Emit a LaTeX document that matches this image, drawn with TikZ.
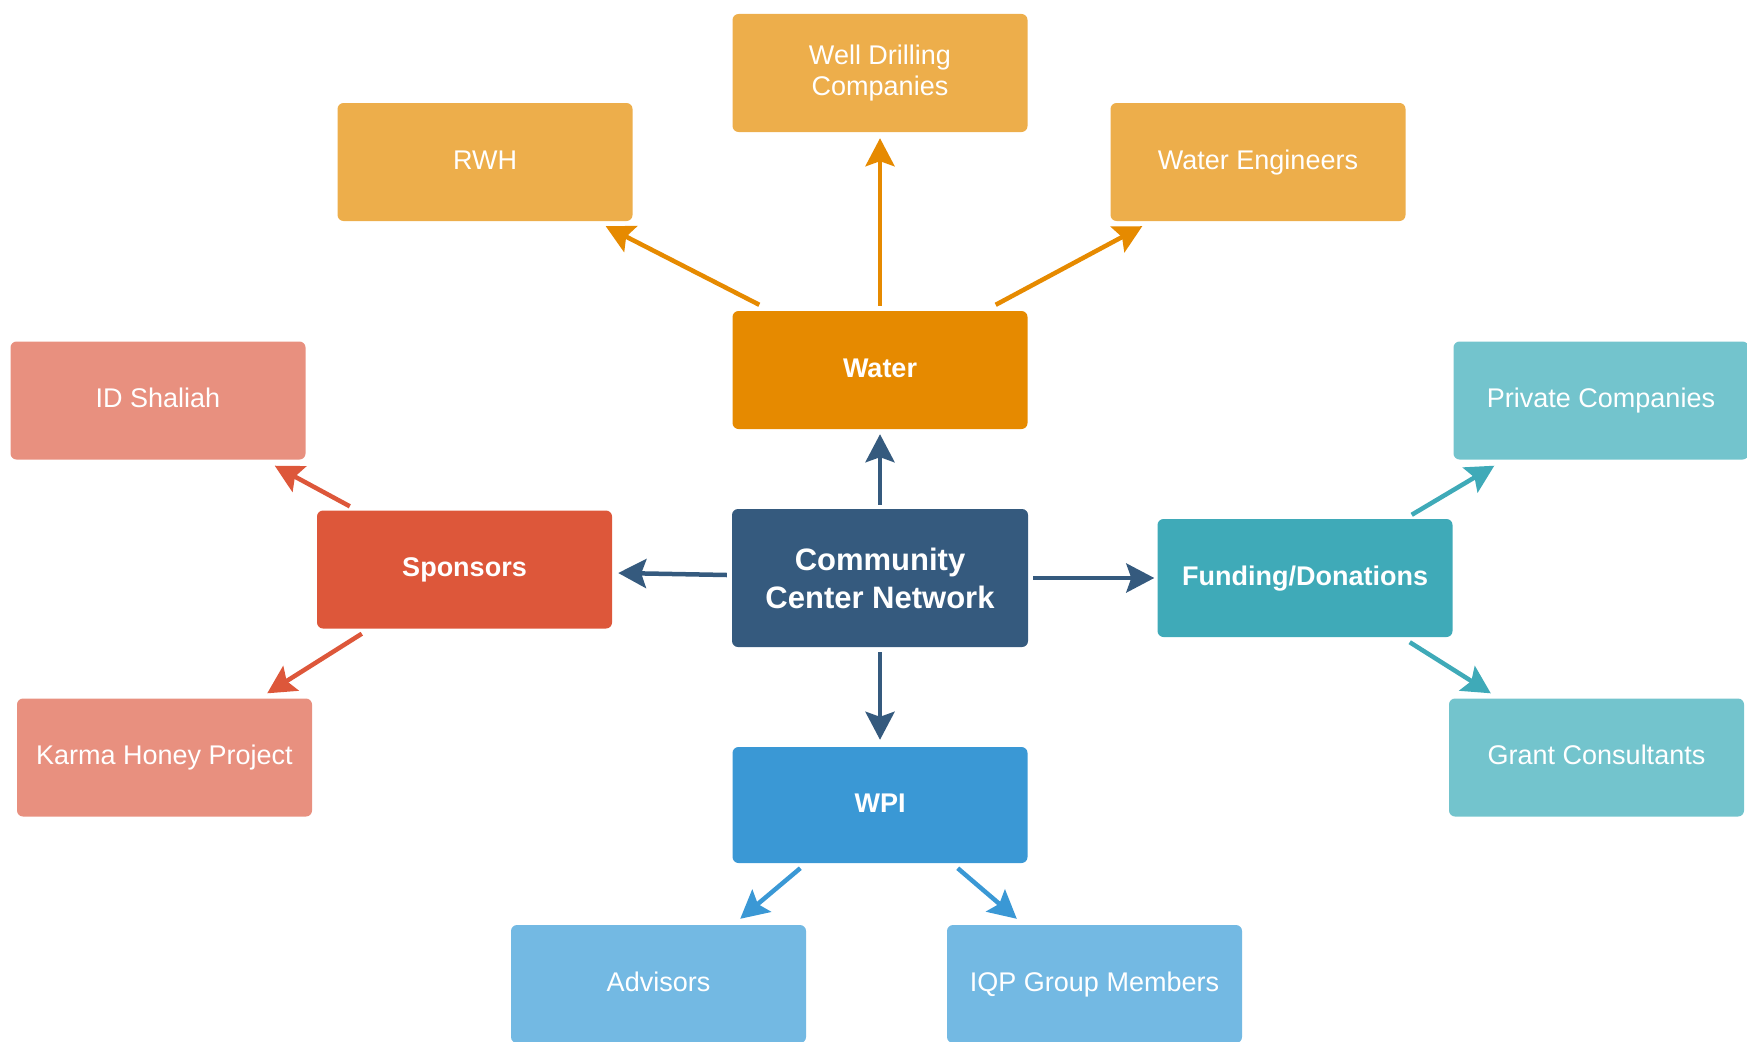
\documentclass[tikz,border=0pt]{standalone}
\usepackage{fontspec}
\setmainfont{Liberation Sans}
\usetikzlibrary{arrows.meta,calc}
\definecolor{orlight}{HTML}{EDAE4B}
\definecolor{ordark}{HTML}{E68A00}
\definecolor{navy}{HTML}{355A7E}
\definecolor{redd}{HTML}{DD573A}
\definecolor{redl}{HTML}{E8907F}
\definecolor{teald}{HTML}{3FAAB8}
\definecolor{teall}{HTML}{73C4CD}
\definecolor{blued}{HTML}{3A98D5}
\definecolor{bluel}{HTML}{73B9E3}
\tikzset{
  box/.style={rounded corners=6pt, inner sep=0pt, text=white, align=center,
    font=\fontsize{27}{32}\selectfont},
  bw/.style={box, minimum width=295pt, minimum height=118pt},
  one/.style={text height=20pt, text depth=6pt},
  arr/.style={line width=4.5pt, -{Stealth[length=28pt,width=29pt,inset=5pt]}},
}
\begin{document}
\begin{tikzpicture}[x=1pt,y=-1pt]
\useasboundingbox (0,0) rectangle (1747,1041);
% top level
\node[bw, fill=orlight] (well) at (880,73) {\raisebox{-3pt}{\shortstack{Well Drilling\\[2pt]Companies}}};
\node[bw, one, fill=orlight] (rwh) at (485,162) {RWH};
\node[bw, one, fill=orlight] (weng) at (1258,162) {Water Engineers};
\node[bw, one, fill=ordark, font=\bfseries\fontsize{27}{32}\selectfont] (water) at (880,370) {Water};
% middle
\node[box, fill=navy, minimum width=296pt, minimum height=138pt,
      font=\bfseries\fontsize{31}{38}\selectfont] (center) at (880,578) {Community\\Center Network};
\node[bw, one, fill=redd, font=\bfseries\fontsize{27}{32}\selectfont] (sponsors) at (464.5,569.5) {Sponsors};
\node[bw, one, fill=redl] (id) at (158,400.5) {ID Shaliah};
\node[bw, one, fill=redl] (karma) at (164.5,757.5) {Karma Honey Project};
\node[bw, one, fill=teald, font=\bfseries\fontsize{27}{32}\selectfont] (funding) at (1305,578) {Funding/Donations};
\node[bw, one, fill=teall] (private) at (1601,400.5) {Private Companies};
\node[bw, one, fill=teall] (grant) at (1596.5,757.5) {Grant Consultants};
% bottom
\node[bw, one, fill=blued, minimum height=116pt, font=\bfseries\fontsize{27}{32}\selectfont] (wpi) at (880,805) {WPI};
\node[bw, one, fill=bluel] (advisors) at (658.5,984) {Advisors};
\node[bw, one, fill=bluel] (iqp) at (1094.5,984) {IQP Group Members};
% arrows from Water
\draw[arr, ordark] ($(water.north west)+(27,-6)$) -- ($(rwh.south east)+(-27,5)$);
\draw[arr, ordark] ($(water.north)+(0,-5)$) -- ($(well.south)+(0,6)$);
\draw[arr, ordark] ($(water.north east)+(-32,-6)$) -- ($(weng.south west)+(32,5)$);
% arrows from center
\draw[arr, navy] ($(center.north)+(0,-4)$) -- ($(water.south)+(0,5)$);
\draw[arr, navy] ($(center.south)+(0,5)$) -- ($(wpi.north)+(0,-7)$);
\draw[arr, navy] ($(center.west)+(-5,-3)$) -- ($(sponsors.east)+(6,3.5)$);
\draw[arr, navy] ($(center.east)+(5,0)$) -- ($(funding.west)+(-3,0)$);
% sponsors
\draw[arr, redd] ($(sponsors.north west)+(33,-4)$) -- ($(id.south east)+(-31,6)$);
\draw[arr, redd] ($(sponsors.south west)+(45,5)$) -- ($(karma.north east)+(-45,-5)$);
% funding
\draw[arr, teald] ($(funding.north east)+(-41,-4)$) -- ($(private.south west)+(41,6)$);
\draw[arr, teald] ($(funding.south east)+(-43,5)$) -- ($(grant.north west)+(42,-5)$);
% wpi
\draw[arr, blued] ($(wpi.south west)+(68,5)$) -- ($(advisors.north east)+(-66,-6)$);
\draw[arr, blued] ($(wpi.south east)+(-70,5)$) -- ($(iqp.north west)+(70,-6)$);
\end{tikzpicture}
\end{document}
